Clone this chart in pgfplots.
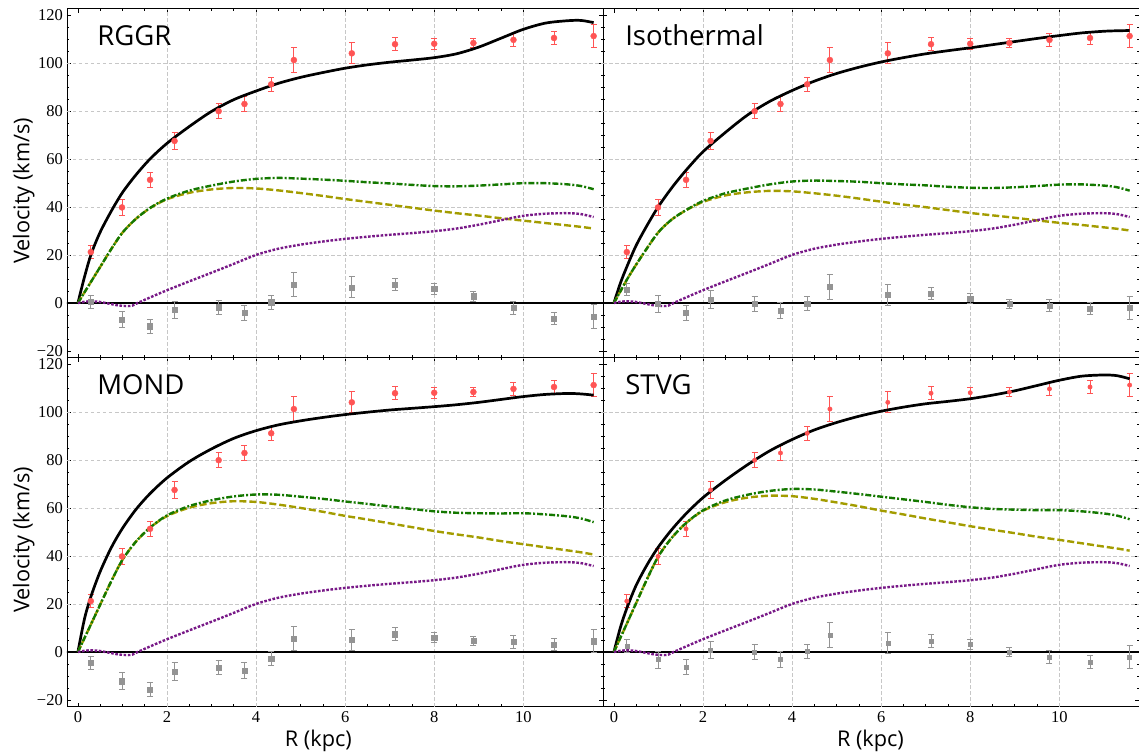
\documentclass[border=0pt]{standalone}
\usepackage{pgfplots}
\usepackage{pgfplotstable}
\pgfplotsset{compat=1.18}
\usepackage{fontspec}
\setmainfont{Open Sans}
\newfontfamily\tickfont{Liberation Serif}
\newfontfamily\labfont{Open Sans}

\definecolor{ptred}{rgb}{1,0.33,0.33}
\definecolor{ptgrey}{rgb}{0.58,0.58,0.58}
\definecolor{cgreen}{rgb}{0.08,0.47,0.0}
\definecolor{cyellow}{rgb}{0.64,0.61,0.0}
\definecolor{cpurple}{rgb}{0.47,0.1,0.53}

\pgfplotstableread{
R v e gR gI gM gS
0.29 21.2 2.6 0.5 5.6 -4.5 2.5
0.99 39.8 3.5 -6.9 -0.3 -12.2 -3.2
1.62 51.3 3.0 -9.7 -4.2 -15.6 -6.3
2.17 67.5 3.6 -2.8 1.4 -8.1 0.7
3.16 79.9 3.0 -1.8 -0.4 -6.4 0.0
3.74 82.9 3.3 -4.2 -3.3 -7.7 -3.2
4.34 91.1 3.0 0.3 -0.3 -2.8 0.3
4.85 101.2 5.1 7.6 6.7 5.6 7.0
6.15 104.0 4.4 6.5 3.5 5.1 3.8
7.12 107.8 2.6 7.6 3.9 7.4 4.6
8.00 108.0 2.2 5.8 1.8 6.0 3.1
8.88 108.3 2.0 2.8 -0.4 4.6 0.0
9.78 109.6 2.6 -2.1 -1.0 4.2 -2.1
10.69 110.4 2.6 -6.5 -2.4 3.1 -4.2
11.58 111.2 4.9 -5.6 -2.1 4.5 -2.1
}\pts

\pgfplotstableread{
R v
0 0
0.15 0.5
0.3 0.7
0.5 0.4
0.7 -0.3
0.9 -1.0
1.1 -1.3
1.22 -1.1
1.32 -0.2
1.45 0.9
1.62 2.3
2.0 5.3
2.5 9.0
3.0 12.6
3.5 16.3
4.0 20.0
4.5 22.6
5.0 24.3
5.5 25.6
6.0 26.7
6.5 27.6
7.0 28.4
7.5 29.1
8.0 29.9
8.5 31.0
9.0 32.6
9.5 34.5
10.0 36.3
10.5 37.2
11.0 37.4
11.3 37.0
11.58 35.8
}\gas

\pgfplotstableread{
R disk bary tot
0 0 0 0
0.15 4.5 4.5 11
0.3 9.0 9.0 20.5
0.5 15.0 15.0 29.5
0.75 22.5 22.5 38.3
1.0 29.3 29.3 46
1.3 35.0 35.0 53.3
1.62 39.5 39.6 60
2.0 43.2 43.5 66.5
2.5 45.9 46.8 73.5
3.0 47.3 48.9 79.8
3.5 47.9 50.6 84.7
4.0 47.7 51.7 88.3
4.5 46.9 52.1 91.5
5.0 45.8 51.8 94.0
5.5 44.6 51.4 96.0
6.0 43.3 50.9 97.8
6.5 42.1 50.3 99.2
7.0 40.9 49.8 100.3
7.5 39.7 49.2 101.2
8.0 38.5 48.7 102.2
8.5 37.4 48.6 103.8
9.0 36.4 48.9 106.6
9.5 35.3 49.4 110.3
10.0 34.3 49.9 114.0
10.5 33.3 49.9 116.6
11.0 32.3 49.4 117.6
11.3 31.7 48.7 117.7
11.58 31.0 47.4 116.8
}\rggr

\pgfplotstableread{
R disk bary tot
0 0 0 0
0.15 5.0 5.0 8.5
0.3 10.0 10.0 15.5
0.5 16.0 16.0 24
0.75 23.0 23.0 32.5
1.0 29.5 29.5 40.2
1.3 34.8 34.8 48
1.62 38.6 38.7 55.3
2.0 42.1 42.5 63
2.5 44.8 45.7 71
3.0 46.1 47.7 78.3
3.5 46.7 49.4 84
4.0 46.5 50.6 88.5
4.5 45.7 51.0 92.4
5.0 44.7 50.8 95.6
5.5 43.5 50.5 98.2
6.0 42.2 49.9 100.4
6.5 41.0 49.4 102.2
7.0 39.9 49.0 103.8
7.5 38.7 48.4 105.1
8.0 37.5 48.0 106.3
8.5 36.5 47.9 107.6
9.0 35.5 48.2 108.9
9.5 34.4 48.7 110.2
10.0 33.4 49.3 111.4
10.5 32.5 49.4 112.5
11.0 31.5 48.9 113.2
11.3 30.9 48.2 113.4
11.58 30.2 46.8 113.5
}\iso

\pgfplotstableread{
R disk bary tot
0 0 0 0
0.15 5.9 5.9 14
0.3 11.8 11.8 23.5
0.5 19.7 19.7 33.5
0.75 29.5 29.5 43.5
1.0 38.4 38.4 51.5
1.3 45.9 45.9 59.3
1.62 51.8 51.8 66
2.0 56.6 56.9 72.5
2.5 60.1 60.8 79.3
3.0 62.0 63.2 84.6
3.5 62.8 64.8 89
4.0 62.5 65.6 92.2
4.5 61.4 65.5 94.6
5.0 60.0 64.7 96.3
5.5 58.4 63.8 97.7
6.0 56.7 62.7 98.9
6.5 55.2 61.7 99.9
7.0 53.6 60.6 100.8
7.5 52.0 59.6 101.5
8.0 50.4 58.6 102.2
8.5 49.0 58.0 103
9.0 47.7 57.8 104
9.5 46.2 57.7 105.2
10.0 44.9 57.8 106.4
10.5 43.6 57.3 107.3
11.0 42.3 56.5 107.7
11.3 41.5 55.6 107.5
11.58 40.6 54.1 107.0
}\mond

\pgfplotstableread{
R disk bary tot
0 0 0 0
0.15 6.1 6.1 10.5
0.3 12.2 12.2 18.7
0.5 20.4 20.4 27.8
0.75 30.6 30.6 36.5
1.0 39.9 39.9 43.8
1.3 47.6 47.6 51
1.62 53.7 53.7 57.6
2.0 58.8 59.0 64.3
2.5 62.4 63.1 71.5
3.0 64.3 65.5 78
3.5 65.1 67.1 83.8
4.0 64.9 67.9 88.5
4.5 63.8 67.7 92.5
5.0 62.3 66.8 95.6
5.5 60.7 65.8 98.2
6.0 58.9 64.7 100.3
6.5 57.3 63.6 102
7.0 55.6 62.5 103.4
7.5 54.0 61.3 104.4
8.0 52.4 60.3 105.5
8.5 50.9 59.6 107
9.0 49.5 59.3 108.8
9.5 48.0 59.1 111.0
10.0 46.7 59.1 113.2
10.5 45.3 58.6 114.9
11.0 43.9 57.7 115.4
11.3 43.1 56.8 115.1
11.58 42.2 55.3 113.8
}\stvg

\pgfplotsset{
  panel/.style={
    scale only axis, width=536bp, height=349bp,
    anchor=south west,
    xmin=-0.245, xmax=11.79, ymin=-22.8, ymax=122.6,
    xtick={0,2,4,6,8,10}, ytick={-20,0,20,40,60,80,100,120},
    minor x tick num=3, minor y tick num=3,
    tick align=inside,
    major tick length=4bp, minor tick length=2.2bp,
    every tick/.append style={black, line width=0.6bp},
    axis line style={black, line width=0.9bp},
    extra x ticks={2,4,6,8,10}, extra y ticks={20,40,60,80,100},
    extra x tick labels={}, extra y tick labels={},
    extra tick style={grid=major, major tick length=0pt},
    major grid style={dash pattern=on 3.5bp off 2.5bp, line width=0.6bp, color=black!22},
    tick label style={font=\tickfont\fontsize{16.5bp}{18bp}\selectfont, inner sep=0pt},
    xticklabel style={yshift=-5bp},
    yticklabel style={xshift=-4bp},
    xticklabels={}, yticklabels={},
    label style={font=\labfont\fontsize{21.7bp}{24bp}\selectfont},
  },
  lefty/.style={
    yticklabels={−20,0,20,40,60,80,100,120},
    ylabel={Velocity (km/s)},
    ylabel style={at={([xshift=-37.7bp]rel axis cs:0,0.478)}, rotate=0, anchor=base},
  },
  botx/.style={
    xticklabels={0,2,4,6,8,10},
    xlabel={R (kpc)},
    xlabel style={at={([yshift=-40bp]rel axis cs:#1,0)}, anchor=base},
  },
  errs/.style={error bars/.cd, y dir=both, y explicit,
    error bar style={line width=1bp},
    error mark options={rotate=90, mark size=3bp, line width=1bp}},
}

\newcommand{\drawpanel}[4]{%
  \addplot[black, line width=1.2bp, forget plot] coordinates {(-1,0) (13,0)};
  \addplot[only marks, color=ptgrey, mark=square*, mark size=#4, errs] table[x=R, y=#2, y error=e] {\pts};
  \addplot[only marks, color=ptred, mark=*, mark size=#3, errs] table[x=R, y=v, y error=e] {\pts};
  \addplot[black, line width=2.7bp, smooth] table[x=R, y=tot] {#1};
  \addplot[cyellow, line width=2.4bp, smooth, dash pattern=on 7bp off 3bp] table[x=R, y=disk] {#1};
  \addplot[cgreen, line width=2.4bp, smooth, dash pattern=on 6bp off 2bp on 2bp off 2bp] table[x=R, y=bary] {#1};
  \addplot[cpurple, line width=2.4bp, smooth, dash pattern=on 2.6bp off 1.6bp] table[x=R, y=v] {\gas};
}

\begin{document}
\begin{tikzpicture}
\begin{axis}[panel, lefty, at={(0bp,349bp)}]
\drawpanel{\rggr}{gR}{3bp}{2.6bp}
\node[anchor=base west, inner sep=0pt, font=\labfont\fontsize{27.5bp}{30bp}\selectfont] at (axis cs:0.43,107.3) {RGGR};
\end{axis}
\begin{axis}[panel, at={(536bp,349bp)}]
\drawpanel{\iso}{gI}{3bp}{2.6bp}
\node[anchor=base west, inner sep=0pt, font=\labfont\fontsize{27.5bp}{30bp}\selectfont] at (axis cs:0.25,107.3) {Isothermal};
\end{axis}
\begin{axis}[panel, lefty, botx=0.469, at={(0bp,0bp)}]
\drawpanel{\mond}{gM}{3bp}{2.6bp}
\node[anchor=base west, inner sep=0pt, font=\labfont\fontsize{27.5bp}{30bp}\selectfont] at (axis cs:0.43,107.3) {MOND};
\end{axis}
\begin{axis}[panel, botx=0.499, at={(536bp,0bp)}]
\drawpanel{\stvg}{gS}{2.2bp}{2.0bp}
\node[anchor=base west, inner sep=0pt, font=\labfont\fontsize{27.5bp}{30bp}\selectfont] at (axis cs:0.25,107.3) {STVG};
\end{axis}
\pgfresetboundingbox
\path[use as bounding box] (-67bp,-49.3bp) rectangle (1072bp,706.7bp);
\end{tikzpicture}
\end{document}
